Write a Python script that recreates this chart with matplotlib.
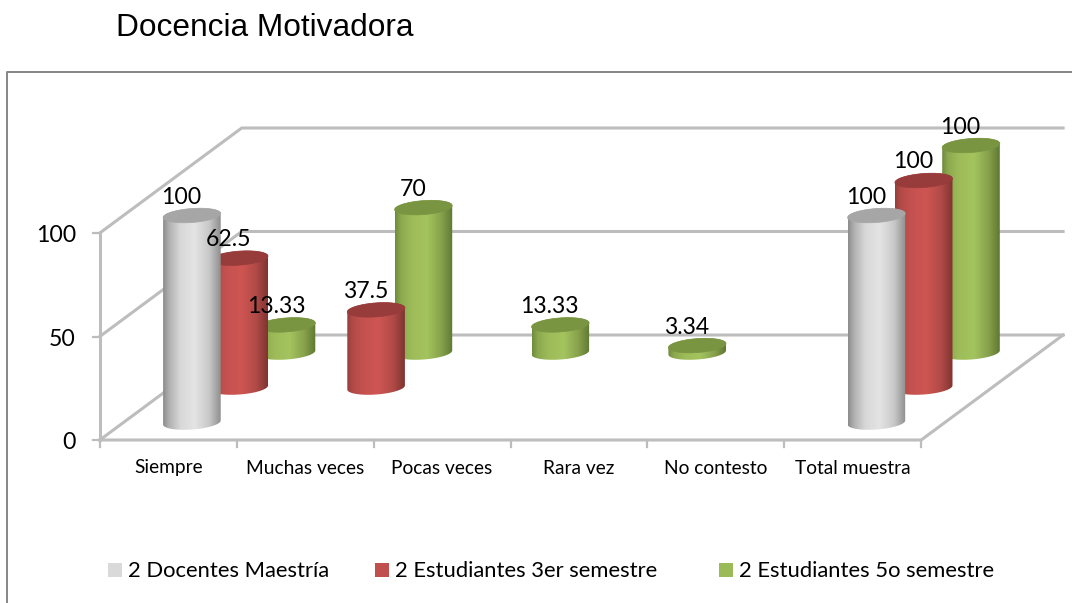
import numpy as np
import matplotlib
matplotlib.use("Agg")
import matplotlib.pyplot as plt
from matplotlib.patches import Polygon, Rectangle

title = "Docencia Motivadora"
categories = ["Siempre", "Muchas veces", "Pocas veces", "Rara vez", "No contesto", "Total muestra"]
series_names = ["2 Docentes Maestría", "2 Estudiantes 3er semestre", "2 Estudiantes 5o semestre"]
docentes = [100, None, None, None, None, 100]
estudiantes_3 = [62.5, 37.5, None, None, None, 100]
estudiantes_5 = [13.33, 70, 13.33, 3.34, None, 100]
value_ticks = [0, 50, 100]

W, H = 1072, 603
X0, Y0 = 99.8, 440.0     # front-left floor corner
CAT_W = 136.9            # width of a category
DEPTH_X, DEPTH_Y = 47.3, 35.0  # oblique shift per series row
UNIT = 2.07              # pixels per value unit
RX, RY, TILT = 28.8, 7.0, 0.07
GRID = "#BDBDBD"

def proj(c, d, v=0.0):
    return X0 + CAT_W * c + DEPTH_X * d, Y0 - DEPTH_Y * d - UNIT * v

fig = plt.figure(figsize=(W / 100, H / 100), dpi=100)
ax = fig.add_axes([0, 0, 1, 1])
ax.set_xlim(0, W)
ax.set_ylim(H, 0)
ax.axis("off")

LAB = "Lato"
NC, ND = len(categories), 3

# chart frame
ax.plot([7, 7, W], [H, 72, 72], color="#868686", lw=1.4, zorder=1)

# walls and floor
for v in value_ticks:
    xs, ys = zip(proj(0, 0, v), proj(0, ND, v), proj(NC, ND, v))
    ax.plot(xs, ys, color=GRID, lw=2.2, zorder=2, solid_joinstyle="miter")
    x, y = proj(0, 0, v)
    ax.plot([x - 7, x], [y, y], color=GRID, lw=1.6, zorder=2)
    ax.text(x - 24, y + 2.5, str(v), ha="right", va="center", fontsize=16.6, family=LAB, color="black", zorder=9)
xs, ys = zip(proj(0, 0, value_ticks[0]), proj(NC, 0, value_ticks[0]), proj(NC, ND, value_ticks[0]))
ax.plot(xs, ys, color=GRID, lw=2.2, zorder=2)
xs, ys = zip(proj(0, 0, value_ticks[0]), proj(0, 0, value_ticks[-1]))
ax.plot(xs, ys, color=GRID, lw=2.2, zorder=2)
for c in range(NC + 1):
    x, y = proj(c, 0)
    ax.plot([x, x], [y, y + 7], color=GRID, lw=1.6, zorder=2)
for c, name in enumerate(categories):
    x, y = proj(c + 0.5, 0)
    ax.text(x, 468, name, ha="center", va="center", fontsize=13.8, family=LAB, color="black", zorder=9)

def ellipse(cx, cy, t):
    return cx + RX * np.cos(t), cy - RY * np.sin(t) - TILT * RX * np.cos(t)

def hexrgb(h):
    return np.array(matplotlib.colors.to_rgb(h))

def cylinder(cx, ybase, ytop, stops, top, z):
    t_low = np.linspace(np.pi, 2 * np.pi, 60)
    t_up = np.linspace(0, np.pi, 30)
    bx, by = ellipse(cx, ybase, t_low)
    tx, ty = ellipse(cx, ytop, t_up)
    pts = np.column_stack([np.r_[bx, tx], np.r_[by, ty]])
    pos = [0, .10, .30, .55, .80, 1]
    u = np.linspace(0, 1, 128)
    rgb = np.stack([np.interp(u, pos, [hexrgb(s)[i] for s in stops]) for i in range(3)], axis=1)[None, :, :]
    poly = Polygon(pts, closed=True, transform=ax.transData, fc="none", ec="none")
    ax.add_patch(poly)
    im = ax.imshow(rgb, extent=[cx - RX, cx + RX, max(by) + 2, min(ty) - 2], aspect="auto",
                   zorder=z, interpolation="bilinear")
    im.set_clip_path(poly)
    a = np.linspace(0, 2 * np.pi, 80)
    ex, ey = ellipse(cx, ytop, a)
    ax.add_patch(Polygon(np.column_stack([ex, ey]), closed=True, fc=top, ec=top, lw=0.5, zorder=z + 0.01))

styles = [
    (docentes, ["#8C8C8C", "#B0B0B0", "#D8D8D8", "#E4E4E4", "#C8C8C8", "#8E8E8E"], "#A6A6A6", "#D9D9D9"),
    (estudiantes_3, ["#973F3C", "#B24B48", "#C65250", "#CE5552", "#B04A47", "#7F3431"], "#973C3A", "#C0504D"),
    (estudiantes_5, ["#6F8B3F", "#8CA94E", "#9EBD5A", "#A4C45E", "#87A24C", "#5F7833"], "#7A9541", "#9BBB59"),
]

# back row first, so the front rows overlap it
for d in [2, 1, 0]:
    values, stops, top, _ = styles[d]
    for c, v in enumerate(values):
        if v is None:
            continue
        cx, yb = proj(c + 0.5, d + 0.5)
        _, yt = proj(c + 0.5, d + 0.5, v)
        cylinder(cx, yb, yt, stops, top, 3 + (2 - d) + c * 0.1)

for d, (values, _, _, _) in enumerate(styles):
    for c, v in enumerate(values):
        if v is None:
            continue
        cx, yt = proj(c + 0.5, d + 0.5, v)
        ax.text(cx - 10.5, yt - 18.5, f"{v:g}", ha="center", va="center", fontsize=16.6, family=LAB,
                color="black", zorder=10)

# legend
for (x, name), (_, _, _, col) in zip(zip([108, 375, 719], series_names), styles):
    ax.add_patch(Rectangle((x, 563), 14, 14, fc=col, ec="none", zorder=9))
    ax.text(x + 20, 571, name, ha="left", va="center", fontsize=15.8, family=LAB, color="black", zorder=9)

ax.text(116, 28, title, ha="left", va="center", fontsize=22.8, family="Liberation Sans", color="black")

ax.set_xlim(0, W)
ax.set_ylim(H, 0)
fig.savefig("out.png", dpi=100, facecolor="white")
